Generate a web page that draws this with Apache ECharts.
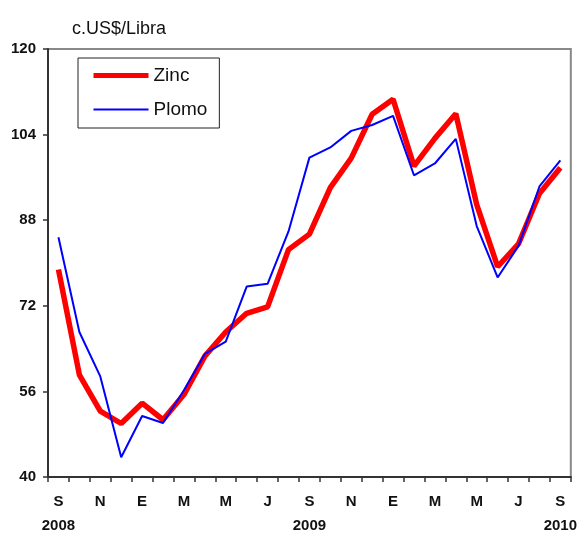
<!DOCTYPE html>
<html><head><meta charset="utf-8">
<script src="https://cdn.jsdelivr.net/npm/echarts@6/dist/echarts.min.js"></script>
<style>html,body{margin:0;padding:0;background:#fff}#c{width:580px;height:538px}</style>
</head><body><div id="c"></div>
<script>
const months = ['S','O','N','D','E','F','M','A','M','J','J','A','S','O','N','D','E','F','M','A','M','J','J','A','S'];
const years = {0:'2008', 12:'2009', 24:'2010'};
const zinc = [78.8,59.1,52.3,50.0,53.8,50.7,55.4,62.6,67.1,70.6,71.8,82.5,85.4,94.1,99.6,107.8,110.6,98.1,103.3,107.9,90.9,79.3,83.6,93.0,97.8];
const plomo = [84.8,67.1,58.8,43.7,51.4,50.1,56.2,63.0,65.3,75.6,76.1,85.9,99.7,101.6,104.7,105.8,107.5,96.4,98.6,103.2,86.9,77.3,83.2,94.3,99.2];
const yTicks = {min:40, max:120, interval:16};

const chart = echarts.init(document.getElementById('c'));
const axisFont = {fontFamily:'Liberation Sans', fontWeight:'bold', fontSize:15, color:'#111'};
chart.setOption({
  animation:false,
  grid:{left:48, right:7, top:49, bottom:55.5, show:true, borderColor:'#888', borderWidth:2},
  legend:{
    orient:'vertical', left:78, top:58,
    backgroundColor:'#fff', borderColor:'#222', borderWidth:1,
    padding:[8,12,9,13], itemGap:15, itemWidth:55, itemHeight:20,
    itemStyle:{opacity:0},
    textStyle:{fontFamily:'Liberation Sans', fontSize:19, color:'#111'},
    data:[
      {name:'Zinc', lineStyle:{color:'#ff0000', width:5}, itemStyle:{opacity:0}},
      {name:'Plomo', lineStyle:{color:'#0000ff', width:2}, itemStyle:{opacity:0}}
    ]
  },
  graphic:[{type:'text', left:72, top:20, style:{text:'c.US$/Libra', font:'18px "Liberation Sans"', fill:'#111'}}],
  xAxis:{
    type:'category', data:months, boundaryGap:true,
    axisLine:{lineStyle:{color:'#333', width:2}},
    axisTick:{show:true, interval:0, length:5, lineStyle:{color:'#333', width:1.5}},
    axisLabel:{
      interval:0, margin:13,
      formatter:(v,i)=>{ if(i%2) return ''; return years[i] ? v+'\n{y|'+years[i]+'}' : v; },
      ...axisFont, lineHeight:24,
      rich:{y:{fontFamily:'Liberation Sans', fontWeight:'bold', fontSize:15, color:'#111', lineHeight:24}}
    },
    splitLine:{show:false}
  },
  yAxis:{
    type:'value', min:yTicks.min, max:yTicks.max, interval:yTicks.interval,
    axisLine:{show:true, lineStyle:{color:'#333', width:2}},
    axisTick:{show:true, length:5, lineStyle:{color:'#333', width:1.5}},
    axisLabel:{margin:12, ...axisFont},
    splitLine:{show:false}
  },
  series:[
    {name:'Zinc', type:'line', data:zinc, showSymbol:false, symbol:'none',
     lineStyle:{color:'#ff0000', width:5.5}, itemStyle:{color:'#ff0000'}, z:2},
    {name:'Plomo', type:'line', data:plomo, showSymbol:false, symbol:'none',
     lineStyle:{color:'#0000ff', width:2}, itemStyle:{color:'#0000ff'}, z:3}
  ]
});
</script></body></html>
